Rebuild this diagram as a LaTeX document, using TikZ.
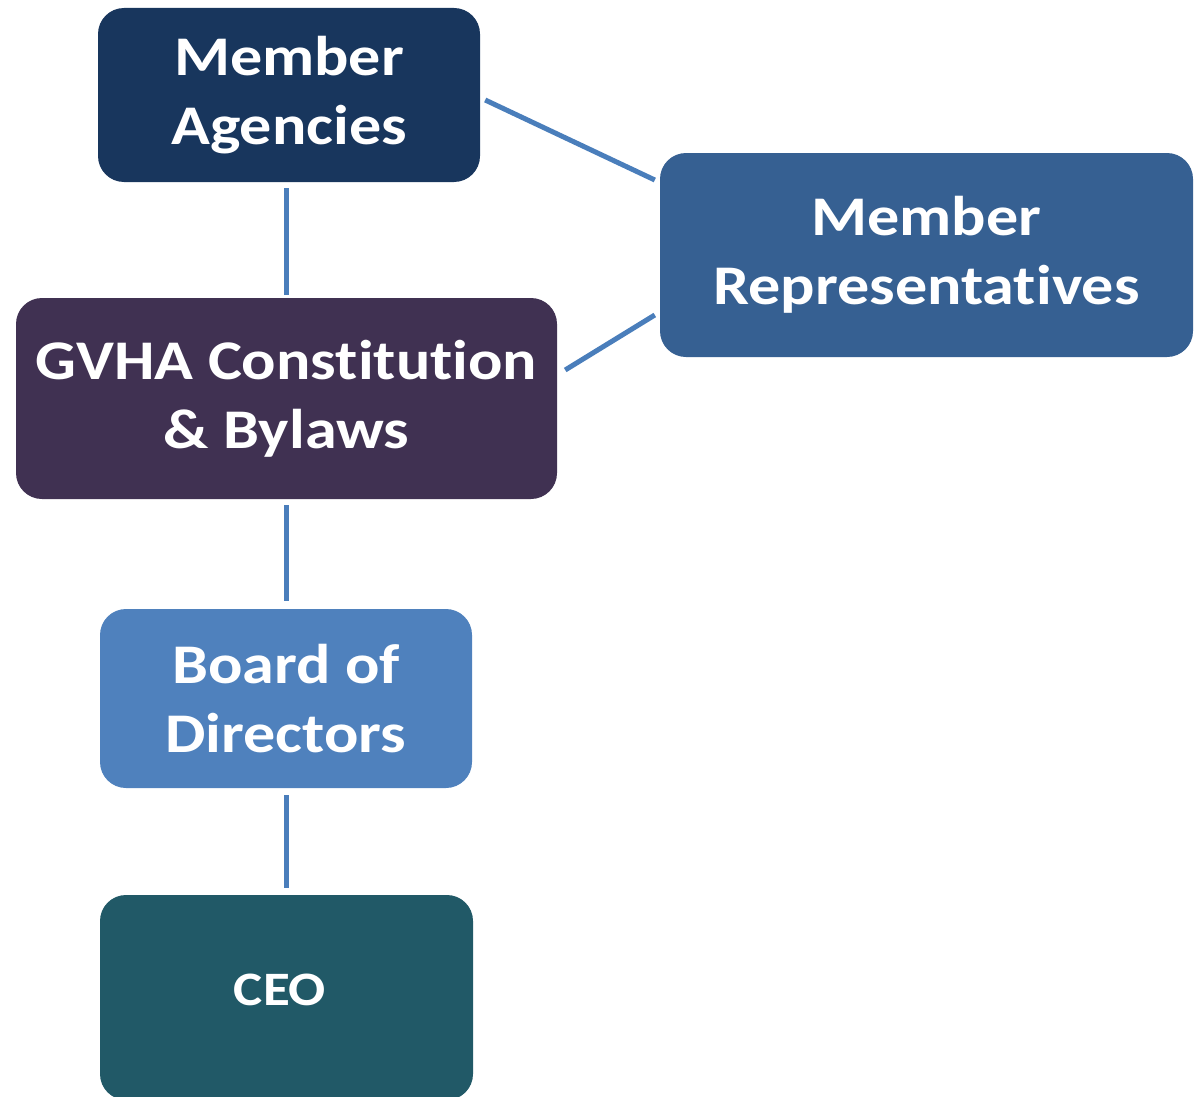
\documentclass[tikz,border=0pt]{standalone}
\usepackage{fontspec}
\setmainfont{Carlito}[FakeStretch=1.145, RawFeature=-liga]
\usetikzlibrary{calc}
\definecolor{cMA}{RGB}{24,54,93}
\definecolor{cMR}{RGB}{54,96,146}
\definecolor{cGV}{RGB}{64,49,82}
\definecolor{cBD}{RGB}{79,129,189}
\definecolor{cCEO}{RGB}{33,89,103}
\definecolor{cLine}{RGB}{74,126,187}
\tikzset{
  orgbox/.style={rectangle, rounded corners=26pt, inner sep=0pt, align=center,
    text=white, font=\fontsize{56}{69}\selectfont\bfseries},
  link/.style={draw=cLine, line width=5pt}
}
\begin{document}
\begin{tikzpicture}[x=1pt,y=-1pt]
\useasboundingbox (0,0) rectangle (1196,1097);
\begin{scope}
\clip (0,0) rectangle (1196,1097);
\node[orgbox, fill=cMA, minimum width=382pt, minimum height=174pt] (ma) at (289,95) {Member\\Agencies};
\node[orgbox, fill=cMR, minimum width=533pt, minimum height=204pt] (mr) at (926.5,255) {Member\\Representatives};
\node[orgbox, fill=cGV, minimum width=541pt, minimum height=201pt] (gv) at (286.5,398.5) {GVHA Constitution\\\& Bylaws};
\node[orgbox, fill=cBD, minimum width=372pt, minimum height=179pt] (bd) at (286,698.5) {Board of\\Directors};
\node[orgbox, fill=cCEO, minimum width=373pt, minimum height=205pt, text depth=15pt,
  font=\fontsize{48}{58}\selectfont\bfseries] (ceo) at (286.5,997.5) {CEO\hspace*{13pt}};
\end{scope}
\draw[link] ($(gv.north |- ma.south)+(0,6)$) -- ($(gv.north)+(0,-3)$);
\draw[link] ($(gv.south)+(0,6)$) -- ($(gv.south |- bd.north)+(0,-8)$);
\draw[link] ($(bd.south)+(0,7)$) -- ($(bd.south |- ceo.north)+(0,-7)$);
\draw[link] ($(ma.east)+(5,5)$) -- ($(mr.west)+(-5,-75)$);
\draw[link] ($(gv.east)+(8,-28.5)$) -- ($(mr.west)+(-5,60)$);
\end{tikzpicture}
\end{document}
